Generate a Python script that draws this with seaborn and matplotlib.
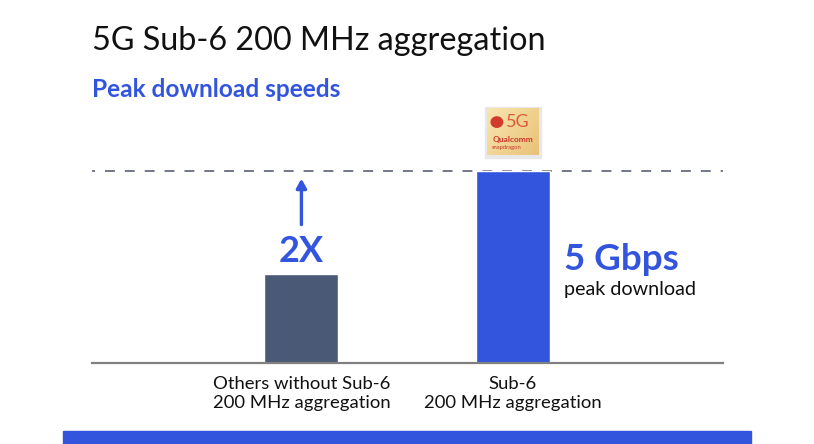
import numpy as np
import matplotlib
matplotlib.use("Agg")
import matplotlib.pyplot as plt
import matplotlib.patches as mpatches
import seaborn as sns

# ── données ──
CATEGORIES = ["Others without Sub-6\n200 MHz aggregation", "Sub-6\n200 MHz aggregation"]
PEAK_GBPS  = [2.3, 5.0]
BAR_COLORS = ["#4a5a76", "#3355dd"]
TARGET     = 5.0

BLUE  = "#3355dd"
GRID  = "#4d5469"

sns.set_theme(style="white")
plt.rcParams["font.family"] = ["Lato", "DejaVu Sans"]

W, H = 814, 444
fig = plt.figure(figsize=(W / 100, H / 100), dpi=100)

# axes placé en pixels : ligne de base y=362.5, de x=92 à x=723
ax = fig.add_axes([92 / W, 1 - 362.5 / H, 631 / W, 230 / H])

sns.barplot(x=CATEGORIES, y=PEAK_GBPS, hue=CATEGORIES, palette=BAR_COLORS,
            width=0.35, saturation=1, legend=False, ax=ax)

ax.set_xlim(-0.99, 1.993)
ax.set_ylim(0, 230 / ((362.5 - 171) / TARGET))

# ligne pointillée au niveau 5 Gbps
ax.axhline(TARGET, color=GRID, lw=1.1, linestyle=(4.5, (6.5, 6.5)), zorder=0)

for s in ["top", "right", "left"]:
    ax.spines[s].set_visible(False)
ax.spines["bottom"].set_color("#808080")
ax.spines["bottom"].set_linewidth(1.6)
ax.set_yticks([])
ax.tick_params(axis="x", length=0, pad=10, labelsize=13.3, colors="#111111")
ax.set_xlabel("")
ax.set_ylabel("")

# flèche 2X
ax.annotate("", xy=(0, 4.8), xytext=(0, 3.6),
            arrowprops=dict(arrowstyle="-|>,head_width=0.25,head_length=0.45",
                            color=BLUE, lw=2.4, shrinkA=0, shrinkB=0))
ax.text(0, 2.63, "2X", ha="center", va="baseline", fontsize=26,
        fontweight="bold", color=BLUE)

# légende de la barre Sub-6
fig.text(564 / W, 1 - 270 / H, "5 Gbps", ha="left", va="baseline",
         fontsize=26.5, fontweight="bold", color=BLUE)
fig.text(564 / W, 1 - 295 / H, "peak download", ha="left", va="baseline",
         fontsize=14.2, color="#111111")

# titres
fig.text(92 / W, 1 - 50 / H, "5G Sub-6 200 MHz aggregation", ha="left",
         va="baseline", fontsize=23.3, color="#111111")
fig.text(92 / W, 1 - 97 / H, "Peak download speeds", ha="left",
         va="baseline", fontsize=17.6, fontweight="bold", color=BLUE)

# puce Snapdragon (ombre + dégradé doré)
cax = fig.add_axes([487 / W, 1 - 155 / H, 52 / W, 47 / H])
cax.set_zorder(3)
cax.add_patch(mpatches.Rectangle((-0.04, -0.07), 1.08, 1.1, color="#e8e8e8",
                                 clip_on=False, zorder=0))
grad = np.linspace(0, 1, 64)[None, :] * 0.6 + np.linspace(0, 1, 64)[:, None] * 0.4
cax.imshow(grad, cmap=matplotlib.colors.LinearSegmentedColormap.from_list(
    "gold", ["#f8e6b0", "#e9c277"]), extent=(0, 1, 0, 1), aspect="auto", zorder=1)
cax.add_patch(mpatches.Circle((0.19, 0.7), 0.11, color="#d23a2a", zorder=2))
cax.text(0.36, 0.7, "5G", fontsize=13, color="#dc5a3c", va="center", ha="left", zorder=2)
cax.text(0.1, 0.34, "Qualcomm", fontsize=6, color="#c8352a", va="center",
         ha="left", fontweight="bold", zorder=2)
cax.text(0.1, 0.17, "snapdragon", fontsize=4.2, color="#c8352a", va="center",
         ha="left", zorder=2)
cax.set_xlim(0, 1)
cax.set_ylim(0, 1)
cax.set_xticks([])
cax.set_yticks([])
for s in cax.spines.values():
    s.set_visible(False)

# bandeau bleu du bas
fig.patches.append(mpatches.Rectangle((63 / W, 0), (751 - 63) / W, 13 / H,
                                      transform=fig.transFigure, color=BLUE))

fig.savefig("out.png", dpi=100)
